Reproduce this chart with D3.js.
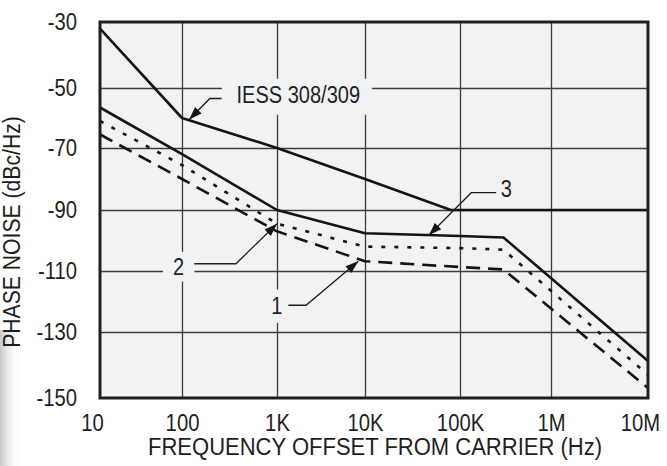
<!DOCTYPE html>
<html>
<head>
<meta charset="utf-8">
<script src="https://cdn.jsdelivr.net/npm/d3@7"></script>
<style>
body { margin: 0; background: #fff; }
svg text { font-family: "Liberation Sans", Arial, sans-serif; fill: #1e1e1e; }
</style>
</head>
<body>
<svg id="chart" width="667" height="466"></svg>
<script>
// axis ticks
const freqTicks = [10, 100, 1e3, 1e4, 1e5, 1e6, 1e7]
const freqLabels = ["10", "100", "1K", "10K", "100K", "1M", "10M"]
const dbTicks = [-30, -50, -70, -90, -110, -130, -150]

// IESS 308/309 mask
const iessFreq = [10, 100, 1e3, 1e4, 8e4, 1e7]
const iessDb = [-32, -60, -70, -80, -90, -90]

// curves 1, 2, 3 share the same break frequencies
const curveFreq = [10, 100, 1e3, 1e4, 1e5, 3e5, 1e7]
const curve3Db = [-56.5, -72, -90, -97.6, -98.5, -99, -138.8]
const curve2Db = [-61, -75.5, -94.5, -102, -102.5, -103, -143]
const curve1Db = [-65.5, -80, -97, -106.8, -108.7, -109.5, -147]

// callouts: text, point the arrow touches
const calloutText = ["IESS 308/309", "3", "2", "1"]
const calloutFreq = [119, 47000, 1000, 8400]
const calloutDb = [-60.5, -98.3, -94.5, -106.8]

const svg = d3.select("#chart")
const rem = 23
const bg = "#f1f2f4"

// the original uses a condensed face; squeeze the glyphs to match
function condense(sel, k) {
    sel.each(function () {
        const w = this.getComputedTextLength()
        d3.select(this)
            .attr("textLength", w * k)
            .attr("lengthAdjust", "spacingAndGlyphs")
    })
}

// scan of the original is not quite even, so map each decade to where it sits
const x = d3.scaleLog()
    .domain(freqTicks)
    .range([100, 182, 277, 365, 460, 551, 648])
const y = d3.scaleLinear()
    .domain(dbTicks)
    .range([22, 88, 148, 210, 271, 332, 398])

const plot = { left: x(10), right: x(1e7), top: y(-30), bottom: y(-150) }

// soft scanner shadow at the bottom left edge
const defs = svg.append("defs")
const shade = defs.append("linearGradient").attr("id", "shade")
shade.append("stop").attr("offset", 0).attr("stop-color", "#c9c9c9")
shade.append("stop").attr("offset", 1).attr("stop-color", "#fff").attr("stop-opacity", 0)
svg.append("rect")
    .attr("x", 0).attr("y", 330).attr("width", 22).attr("height", 136)
    .attr("fill", "url(#shade)")

svg.append("rect")
    .attr("x", plot.left).attr("y", plot.top)
    .attr("width", plot.right - plot.left).attr("height", plot.bottom - plot.top)
    .attr("fill", bg)

// grid
const xGrid = d3.axisBottom(x)
    .tickValues(freqTicks.slice(1, -1))
    .tickSize(-(plot.bottom - plot.top))
    .tickFormat("")
const yGrid = d3.axisLeft(y)
    .tickValues(dbTicks.slice(1, -1))
    .tickSize(-(plot.right - plot.left))
    .tickFormat("")

svg.append("g")
    .attr("class", "grid")
    .attr("transform", "translate(0," + plot.bottom + ")")
    .call(xGrid)
svg.append("g")
    .attr("class", "grid")
    .attr("transform", "translate(" + plot.left + ",0)")
    .call(yGrid)
svg.selectAll(".grid .domain").remove()
svg.selectAll(".grid line")
    .attr("stroke", "#3c3c3c")
    .attr("stroke-width", 1.3)

// callout layout, offsets in px from the arrow tip
const callouts = calloutText.map((t, i) => ({ text: t, f: calloutFreq[i], db: calloutDb[i] }))
const layout = [
    { elbow: [20.7, -21], end: [32.4, -21], tx: 47.4, ty: -17, anchor: "start", box: [32.7, -40.7, 150, 36] },
    { elbow: [42.4, -42.6], end: [67.4, -42.6], tx: 72, ty: -38, anchor: "start", box: null },
    { elbow: [-41, 40], end: [-82.7, 40], tx: -98.4, ty: 51.5, anchor: "middle", box: [-114, 28, 31.3, 29.7] },
    { elbow: [-52.3, 44], end: [-70, 44], tx: -81.6, ty: 53, anchor: "middle", box: [-93.5, 28.3, 23, 33.3] }
]

// boxes that blank the grid behind the callout text
callouts.forEach((c, i) => {
    const b = layout[i].box
    if (!b) return
    svg.append("rect")
        .attr("x", x(c.f) + b[0]).attr("y", y(c.db) + b[1])
        .attr("width", b[2]).attr("height", b[3])
        .attr("fill", bg)
})

// curves
const line = d3.line()
    .x(d => x(d[0]))
    .y(d => y(d[1]))

const series = [
    { f: iessFreq, db: iessDb, dash: null },
    { f: curveFreq, db: curve3Db, dash: null },
    { f: curveFreq, db: curve2Db, dash: "4,9" },
    { f: curveFreq, db: curve1Db, dash: "14,8" }
]

svg.append("g")
    .selectAll("path")
    .data(series)
    .join("path")
    .attr("d", s => line(s.f.map((f, i) => [f, s.db[i]])))
    .attr("fill", "none")
    .attr("stroke", "#141414")
    .attr("stroke-width", 2.6)
    .attr("stroke-linejoin", "round")
    .attr("stroke-dasharray", s => s.dash)

// leaders and arrowheads
callouts.forEach((c, i) => {
    const L = layout[i]
    const px = x(c.f), py = y(c.db)
    const ex = px + L.elbow[0], ey = py + L.elbow[1]
    svg.append("polyline")
        .attr("points", [[px + L.end[0], py + L.end[1]], [ex, ey], [px, py]].map(p => p.join(",")).join(" "))
        .attr("fill", "none")
        .attr("stroke", "#1e1e1e")
        .attr("stroke-width", 1.3)

    const ang = Math.atan2(ey - py, ex - px)
    const len = 13, half = 4.5
    const bx = px + Math.cos(ang) * len, by = py + Math.sin(ang) * len
    const nx = -Math.sin(ang) * half, ny = Math.cos(ang) * half
    svg.append("polygon")
        .attr("points", [[px, py], [bx + nx, by + ny], [bx - nx, by - ny]].map(p => p.join(",")).join(" "))
        .attr("fill", "#141414")

    svg.append("text")
        .attr("class", "callout")
        .attr("x", px + L.tx)
        .attr("y", py + L.ty)
        .attr("text-anchor", L.anchor)
        .attr("font-size", rem)
        .text(c.text)
})
condense(svg.selectAll(".callout"), 0.87)

// frame
svg.append("rect")
    .attr("x", plot.left).attr("y", plot.top)
    .attr("width", plot.right - plot.left).attr("height", plot.bottom - plot.top)
    .attr("fill", "none")
    .attr("stroke", "#202020")
    .attr("stroke-width", 3)

// tick labels
const xAxis = d3.axisBottom(x)
    .tickValues(freqTicks)
    .tickSize(0)
    .tickPadding(17)
    .tickFormat((d, i) => freqLabels[i])
const yAxis = d3.axisLeft(y)
    .tickValues(dbTicks)
    .tickSize(0)
    .tickPadding(23)
    .tickFormat(d => d)

const xLabel = svg.append("g")
    .attr("class", "axis xAxis")
    .attr("transform", "translate(0," + plot.bottom + ")")
    .call(xAxis)
svg.append("g")
    .attr("class", "axis yAxis")
    .attr("transform", "translate(" + plot.left + ",0)")
    .call(yAxis)
svg.selectAll(".axis .domain").remove()
svg.selectAll(".axis text")
    .attr("font-size", rem)
    .attr("font-family", null)
    .attr("fill", "#1e1e1e")
condense(svg.selectAll(".axis text"), 0.88)

// first and last labels sit a little inward in the original
const xTexts = xLabel.selectAll("text")
d3.select(xTexts.nodes()[0]).attr("dx", -8)
d3.select(xTexts.nodes()[freqTicks.length - 1]).attr("dx", -8)

// titles
svg.append("text")
    .attr("x", 375)
    .attr("y", 455)
    .attr("text-anchor", "middle")
    .attr("font-size", rem)
    .attr("textLength", 454)
    .attr("lengthAdjust", "spacingAndGlyphs")
    .text("FREQUENCY OFFSET FROM CARRIER (Hz)")

const yTitle = svg.append("text")
    .attr("transform", "translate(20,232) rotate(-90)")
    .attr("text-anchor", "middle")
    .attr("font-size", rem)
    .text("PHASE NOISE (dBc/Hz)")
condense(yTitle, 0.92)
</script>
</body>
</html>
